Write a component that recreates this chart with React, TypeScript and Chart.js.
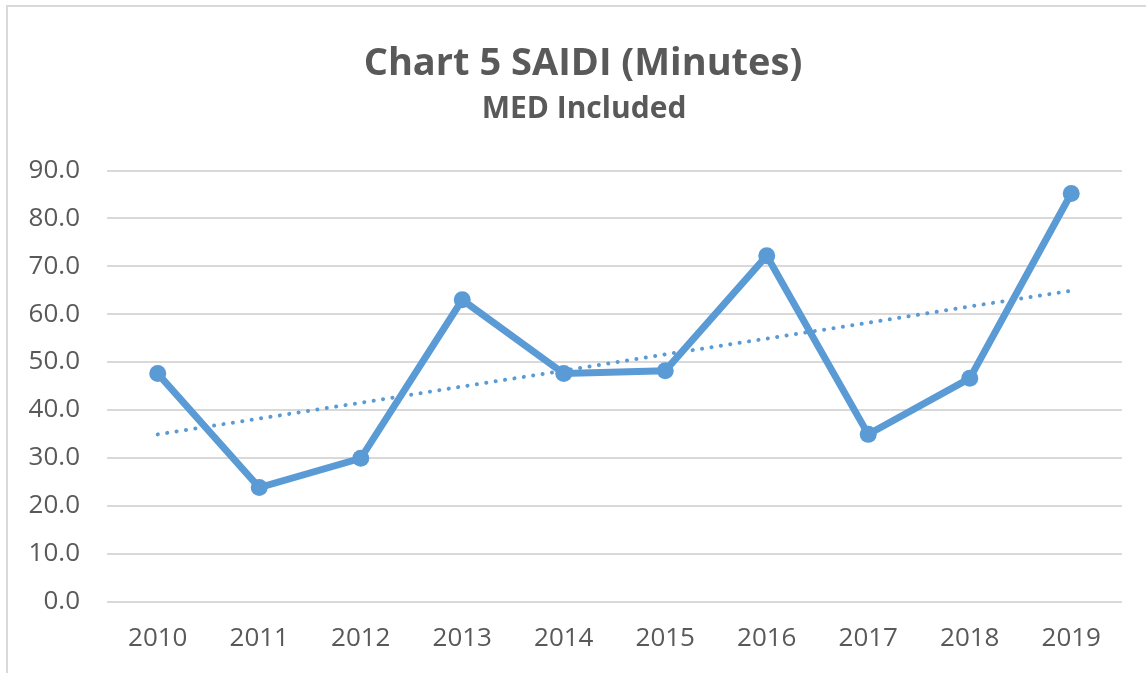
import React, { useEffect, useRef } from "react";
import { Chart, registerables } from "chart.js";

Chart.register(...registerables);

const years = ["2010", "2011", "2012", "2013", "2014", "2015", "2016", "2017", "2018", "2019"];
const saidi = [47.6, 23.8, 29.9, 63.0, 47.6, 48.2, 72.2, 34.9, 46.6, 85.2];
const trend = [34.9, 38.2, 41.5, 44.9, 48.2, 51.6, 54.9, 58.2, 61.6, 64.9];
const titleText = "Chart 5 SAIDI (Minutes)";
const subtitleText = "MED Included";

const FONT = "'Open Sans', 'Noto Sans', sans-serif";
const TEXT = "#595959";
const BLUE = "#5B9BD5";

const titlesPlugin = {
  id: "centeredTitles",
  afterDraw(chart: any) {
    const ctx = chart.ctx as CanvasRenderingContext2D;
    ctx.save();
    ctx.fillStyle = TEXT;
    ctx.textAlign = "center";
    ctx.textBaseline = "middle";
    ctx.font = `bold 38px ${FONT}`;
    ctx.fillText(titleText, 583, 63.8);
    ctx.font = `bold 30px ${FONT}`;
    ctx.fillText(subtitleText, 584, 109.1);
    ctx.restore();
  },
};

export default function App() {
  const ref = useRef<HTMLCanvasElement>(null);
  useEffect(() => {
    if (!ref.current) return;
    const chart = new Chart(ref.current, {
      type: "line",
      data: {
        labels: years,
        datasets: [
          {
            label: "SAIDI",
            data: saidi,
            borderColor: BLUE,
            backgroundColor: BLUE,
            borderWidth: 7,
            pointRadius: 8.5,
            pointBorderWidth: 0,
            pointBackgroundColor: BLUE,
            tension: 0,
            order: 1,
          },
          {
            label: "Trend",
            data: trend,
            borderColor: BLUE,
            borderWidth: 4,
            borderDash: [0.1, 9.4],
            borderCapStyle: "round",
            pointRadius: 0,
            tension: 0,
            order: 2,
          },
        ],
      },
      plugins: [titlesPlugin],
      options: {
        responsive: false,
        animation: false,
        layout: { padding: { left: 0, right: 24, top: 170.5, bottom: 20 } },
        plugins: {
          legend: { display: false },
          tooltip: { enabled: false },
          title: { display: false },
          subtitle: { display: false },
        },
        scales: {
          x: {
            offset: true,
            afterFit: (s: any) => {
              s.height = 51.5;
            },
            grid: { display: false, drawTicks: false },
            border: { display: false },
            ticks: {
              color: TEXT,
              font: { family: FONT, size: 26 },
              padding: 21,
              maxRotation: 0,
              autoSkip: false,
            },
          },
          y: {
            min: 0,
            max: 90,
            afterFit: (s: any) => {
              s.width = 107;
            },
            grid: { color: "#d9d9d9", lineWidth: 2, drawTicks: false },
            border: { display: false },
            ticks: {
              stepSize: 10,
              color: TEXT,
              font: { family: FONT, size: 26 },
              padding: 27,
              callback: (v: any) => Number(v).toFixed(1),
            },
          },
        },
      },
    });
    return () => chart.destroy();
  }, []);

  return (
    <div
      style={{
        position: "fixed",
        left: 0,
        top: 0,
        width: 1146,
        height: 673,
        background: "#fff",
        overflow: "hidden",
      }}
    >
      <canvas
        ref={ref}
        width={1146}
        height={673}
        style={{ position: "absolute", left: 0, top: 0, width: 1146, height: 673 }}
      />
      <div
        style={{
          position: "absolute",
          left: 6,
          top: 5,
          width: 1200,
          height: 700,
          borderLeft: "2px solid #d9d9d9",
          borderTop: "2px solid #d9d9d9",
          pointerEvents: "none",
        }}
      />
    </div>
  );
}
